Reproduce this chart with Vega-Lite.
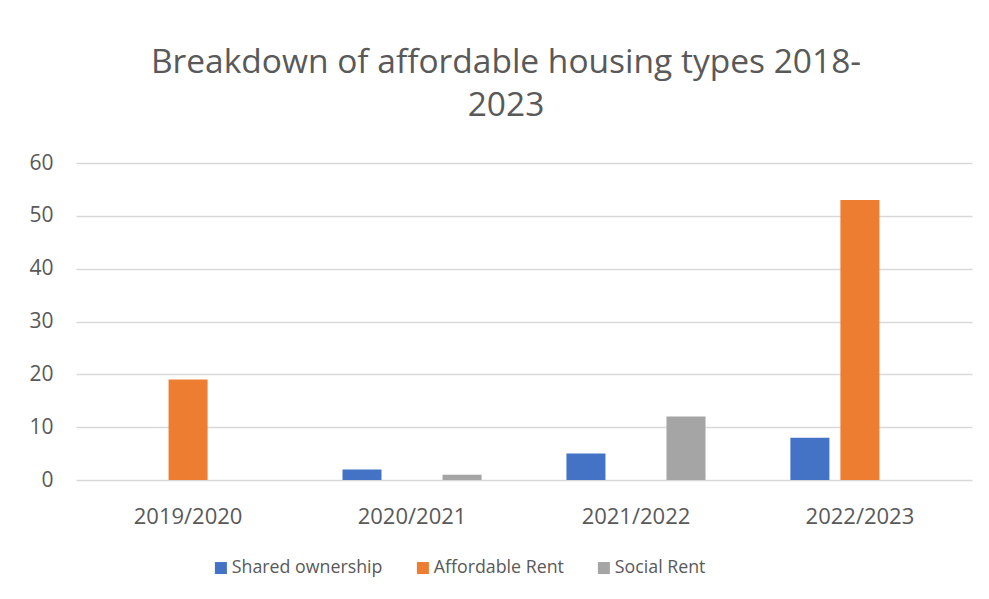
{
  "$schema": "https://vega.github.io/schema/vega-lite/v6.json",
  "width": 896,
  "height": 317,
  "autosize": "none",
  "padding": {"left": 76, "top": 163, "right": 17, "bottom": 119},
  "background": "white",
  "title": {
    "text": ["Breakdown of affordable housing types 2018-", "2023"],
    "fontSize": 33.5,
    "font": "Open Sans",
    "fontWeight": "normal",
    "color": "#595959",
    "anchor": "middle",
    "dx": -18,
    "offset": 29,
    "lineHeight": 43
  },
  "data": {
    "values": [
      {"year": "2019/2020", "type": "Shared ownership", "value": 0},
      {"year": "2019/2020", "type": "Affordable Rent", "value": 19},
      {"year": "2019/2020", "type": "Social Rent", "value": 0},
      {"year": "2020/2021", "type": "Shared ownership", "value": 2},
      {"year": "2020/2021", "type": "Affordable Rent", "value": 0},
      {"year": "2020/2021", "type": "Social Rent", "value": 1},
      {"year": "2021/2022", "type": "Shared ownership", "value": 5},
      {"year": "2021/2022", "type": "Affordable Rent", "value": 0},
      {"year": "2021/2022", "type": "Social Rent", "value": 12},
      {"year": "2022/2023", "type": "Shared ownership", "value": 8},
      {"year": "2022/2023", "type": "Affordable Rent", "value": 53},
      {"year": "2022/2023", "type": "Social Rent", "value": 0}
    ]
  },
  "mark": {"type": "bar"},
  "encoding": {
    "x": {
      "field": "year",
      "type": "nominal",
      "title": null,
      "scale": {"paddingInner": 0.379, "paddingOuter": 0.19},
      "axis": {
        "labelAngle": 0,
        "labelFont": "Open Sans",
        "labelFontSize": 22,
        "labelColor": "#595959",
        "labelPadding": 26,
        "ticks": false,
        "domain": false,
        "grid": false
      }
    },
    "xOffset": {
      "field": "type",
      "type": "nominal",
      "sort": ["Shared ownership", "Affordable Rent", "Social Rent"],
      "scale": {"paddingInner": 0.22, "paddingOuter": 0}
    },
    "y": {
      "field": "value",
      "type": "quantitative",
      "title": null,
      "scale": {"domain": [0, 60], "nice": false},
      "axis": {
        "values": [0, 10, 20, 30, 40, 50, 60],
        "labelFont": "Open Sans",
        "labelFontSize": 21,
        "labelColor": "#595959",
        "labelPadding": 23,
        "ticks": false,
        "domain": false,
        "grid": true,
        "gridColor": "#D9D9D9",
        "gridWidth": 1.5
      }
    },
    "color": {
      "field": "type",
      "type": "nominal",
      "sort": ["Shared ownership", "Affordable Rent", "Social Rent"],
      "scale": {
        "domain": ["Shared ownership", "Affordable Rent", "Social Rent"],
        "range": ["#4472C4", "#ED7D31", "#A5A5A5"]
      },
      "legend": {
        "title": null,
        "orient": "none",
        "legendX": 136,
        "legendY": 396,
        "direction": "horizontal",
        "symbolType": "square",
        "symbolSize": 144,
        "symbolStrokeWidth": 0,
        "labelFont": "Open Sans",
        "labelFontSize": 17.8,
        "labelColor": "#595959",
        "labelOffset": 2,
        "labelLimit": 400,
        "columnPadding": 31
      }
    }
  },
  "config": {
    "view": {"stroke": null}
  }
}
